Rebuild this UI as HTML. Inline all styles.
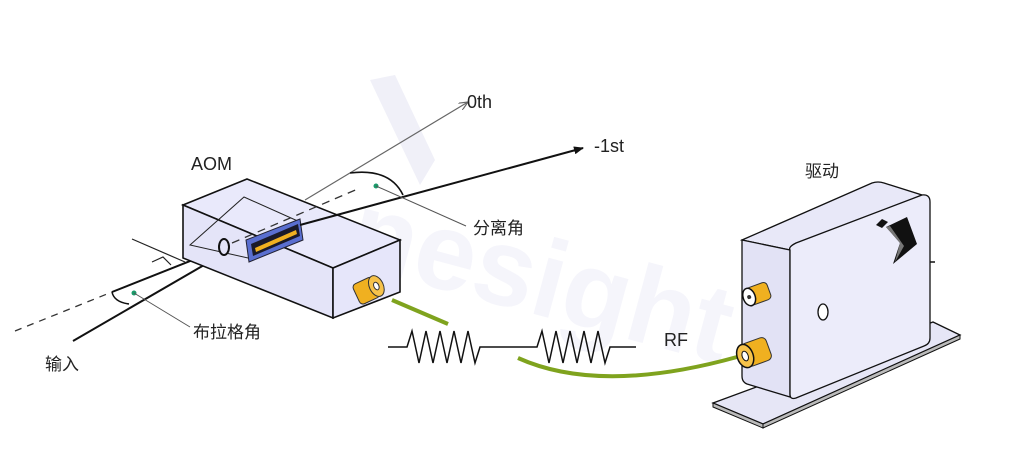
<!DOCTYPE html>
<html><head><meta charset="utf-8"><style>
html,body{margin:0;padding:0;background:#fff;}
svg{display:block}
text{font-family:"Liberation Sans","Noto Sans CJK SC",sans-serif;fill:#222;}
</style></head><body>
<svg width="1024" height="466" viewBox="0 0 1024 466" xmlns="http://www.w3.org/2000/svg">
<defs>
<marker id="ab" markerWidth="10" markerHeight="8" refX="9" refY="4" orient="auto" markerUnits="userSpaceOnUse"><path d="M0,0 L10,4 L0,8 Z" fill="#111"/></marker>
<marker id="ag" markerWidth="10" markerHeight="8" refX="9" refY="4" orient="auto" markerUnits="userSpaceOnUse"><path d="M0,0 L9,4 L0,8" fill="none" stroke="#666" stroke-width="1.2"/></marker>
</defs>
<!-- watermark -->
<polygon points="370,80 395,75 435,160 420,185" fill="#f0f0f8"/>
<text x="350" y="290" font-size="110" font-weight="bold" style="fill:#f5f5fb" transform="rotate(15 450 250)">nesight</text>

<!-- input side -->
<line x1="15" y1="331" x2="112" y2="292" stroke="#333" stroke-width="1.3" stroke-dasharray="7,6"/>
<line x1="112" y1="292" x2="228" y2="246" stroke="#111" stroke-width="2"/>
<line x1="73" y1="341" x2="230" y2="250" stroke="#111" stroke-width="2"/>
<line x1="132" y1="239" x2="185" y2="262" stroke="#222" stroke-width="1.2"/>
<polyline points="152,262 163,257 171,265" fill="none" stroke="#222" stroke-width="1.2"/>
<path d="M112,292 Q114,302 129,304" fill="none" stroke="#111" stroke-width="1.5"/>
<circle cx="134" cy="293" r="2.5" fill="#1a9a6a"/>
<line x1="134" y1="293" x2="190" y2="327" stroke="#555" stroke-width="1"/>

<!-- AOM box -->
<polygon points="183,205 247,179 400,240 333,268" fill="#e9e9fb" stroke="#111" stroke-width="1.6"/>
<polygon points="183,205 333,268 333,318 183,258" fill="#e4e4f8" stroke="#111" stroke-width="1.6"/>
<polygon points="333,268 400,240 400,292 333,318" fill="#e6e6fa" stroke="#111" stroke-width="1.6"/>
<polygon points="190,245 244,197 300,222 248,258" fill="none" stroke="#222" stroke-width="1"/>
<ellipse cx="224" cy="247" rx="5" ry="8" fill="#e4e4f8" stroke="#111" stroke-width="2"/>
<polygon points="246,240 300,219 303,240 249,262" fill="#5a6fd0" stroke="#223" stroke-width="1"/>
<polygon points="251,244 298,224 300,236 253,256" fill="#1a1a2a"/>
<polygon points="255,248 296,230 297,234 256,252" fill="#f0b020"/>
<line x1="232" y1="243" x2="360" y2="188" stroke="#333" stroke-width="1.3" stroke-dasharray="8,6"/>
<g transform="rotate(-25 370 289)">
<rect x="355" y="278" width="22" height="22" rx="4" fill="#f0b020" stroke="#333" stroke-width="1"/>
<ellipse cx="377" cy="289" rx="7" ry="11" fill="#f6c24a" stroke="#333" stroke-width="1"/>
<ellipse cx="377" cy="289" rx="2.5" ry="4" fill="#fff" stroke="#333" stroke-width="1"/>
</g>

<!-- output beams -->
<line x1="305" y1="200" x2="468" y2="102" stroke="#666" stroke-width="1.2" marker-end="url(#ag)"/>
<line x1="300" y1="225" x2="583" y2="148" stroke="#111" stroke-width="2" marker-end="url(#ab)"/>
<path d="M350,173 Q390,168 403,195" fill="none" stroke="#111" stroke-width="1.6"/>
<circle cx="376" cy="186" r="2.5" fill="#1a9a6a"/>
<line x1="376" y1="186" x2="466" y2="226" stroke="#555" stroke-width="1"/>

<!-- labels -->
<text x="191" y="170" font-size="18">AOM</text>
<text x="467" y="108" font-size="18">0th</text>
<text x="594" y="152" font-size="18">-1st</text>
<text x="473" y="234" font-size="17">分离角</text>
<text x="193" y="338" font-size="17">布拉格角</text>
<text x="45" y="370" font-size="17">输入</text>
<text x="664" y="346" font-size="18">RF</text>
<text x="805" y="177" font-size="17">驱动</text>

<!-- RF waves -->
<polyline points="388,347 407,347 412,331 419,363 426,331 433,363 440,331 447,363 454,331 461,363 468,331 475,363 480,347 537,347 542,331 549,363 556,331 563,363 570,331 577,363 584,331 591,363 598,331 605,363 610,347 636,347" fill="none" stroke="#111" stroke-width="1.5"/>
<line x1="392" y1="300" x2="448" y2="324" stroke="#7fa31e" stroke-width="4"/>
<path d="M518,358 Q600,395 737,357" fill="none" stroke="#7fa31e" stroke-width="4"/>

<!-- driver -->
<polygon points="713,403 933,322 960,335 763,424" fill="#e6e6f6" stroke="#111" stroke-width="1.3"/>
<polygon points="713,403 763,424 763,428 713,407" fill="#bbb" stroke="#111" stroke-width="1"/>
<polygon points="763,424 960,335 960,339 763,428" fill="#bbb" stroke="#111" stroke-width="1"/>
<path d="M742,240 L872,183 Q878,181 884,183 L922,195 L790,250 Z" fill="#e8e8f8" stroke="#111" stroke-width="1.3"/>
<path d="M742,240 L790,250 L790,397 L747,384 Q742,382 742,376 Z" fill="#e2e2f5" stroke="#111" stroke-width="1.3"/>
<path d="M790,250 Q788,247 796,243 L922,195 Q930,194 930,202 L930,338 Q930,344 924,346 L796,398 Q790,400 790,394 Z" fill="#ececfa" stroke="#111" stroke-width="1.3"/>
<ellipse cx="823" cy="312" rx="5" ry="8" fill="#fff" stroke="#111" stroke-width="1.3"/>
<polygon points="876,225 882,219 888,222 882,228" fill="#111"/>
<polygon points="886,227 907,217 917,244 893,264 900,243" fill="#111"/>
<polygon points="886,227 890,226 904,246 895,262 900,243" fill="#777"/>
<line x1="930" y1="262" x2="935" y2="262" stroke="#111" stroke-width="1.5"/>
<g transform="rotate(-20 752 296)"><rect x="748" y="287" width="22" height="18" rx="4" fill="#f0b020" stroke="#333"/><ellipse cx="749" cy="296" rx="6" ry="9" fill="#fff" stroke="#111" stroke-width="1.5"/><circle cx="749" cy="296" r="2" fill="#333"/></g>
<g transform="rotate(-20 748 355)"><rect x="744" y="343" width="26" height="24" rx="5" fill="#f0b020" stroke="#333"/><ellipse cx="745" cy="355" rx="8" ry="12" fill="#f6c24a" stroke="#111" stroke-width="1.5"/><ellipse cx="745" cy="355" rx="3" ry="5" fill="#fff" stroke="#111"/></g>
</svg>
</body></html>
